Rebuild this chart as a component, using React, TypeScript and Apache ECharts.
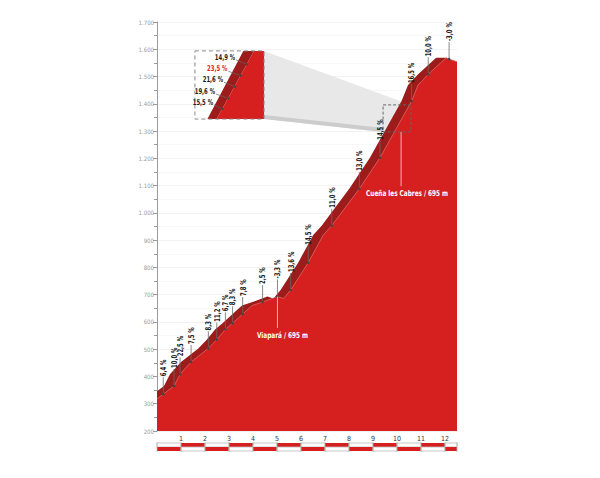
import React, { useEffect, useRef } from 'react';
import * as echarts from 'echarts';

// ---- data ----
const profileKm = [0, 0.26, 0.71, 0.96, 1.42, 2.14, 2.49, 2.85, 3.15, 3.57, 3.96, 4.4, 5.02, 5.27, 5.57, 6.3, 6.93, 7.28, 8.43, 9.29, 10.61, 10.88, 11.3, 12.05, 12.17, 12.5];
const profileElev = [318, 335, 365, 408, 453, 503, 535, 573, 595, 629, 660, 673, 693, 686, 717, 817, 919, 953, 1088, 1202, 1410, 1469, 1508, 1569, 1564, 1554];

const gradeKm = [0.26, 0.71, 0.96, 1.42, 2.14, 2.49, 2.85, 3.15, 3.57, 4.4, 5.02, 5.57, 6.3, 7.28, 8.43, 9.29, 10.61, 11.3, 12.17];
const gradeElev = [335, 365, 408, 453, 503, 535, 573, 595, 629, 673, 693, 717, 817, 953, 1088, 1202, 1410, 1508, 1564];
const gradeLabels = ['6,4 %', '10,0 %', '22,5 %', '7,5 %', '8,3 %', '11,2 %', '6,7 %', '8,3 %', '7,8 %', '2,5 %', '-3,3 %', '13,6 %', '14,5 %', '11,0 %', '13,0 %', '14,5 %', '16,5 %', '10,0 %', '-3,0 %'];

const xTickLabels = [1, 2, 3, 4, 5, 6, 7, 8, 9, 10, 11, 12];
const Y_MIN = 200;
const Y_MAX = 1700;
const Y_STEP = 100;
const X_MAX = 12.5;

const insetGrades = ['14,9 %', '23,5 %', '21,6 %', '19,6 %', '15,5 %'];
const insetHighlight = [false, true, false, false, false];

const passNames = ['Viapará / 695 m', 'Cueña les Cabres / 695 m'];
const passKm = [5.02, 10.17];
const passElev = [693, 1297];

// zoom window (small dashed box) and inset box, in km / m
const zoomBoxKm = [9.42, 10.58];
const zoomBoxElev = [1297, 1396];
const insetBoxKm = [1.58, 4.46];
const insetBoxElev = [1344, 1594];

const FONT = "'Liberation Sans Narrow','DejaVu Sans Condensed','Roboto Condensed',sans-serif";
const NARROW = 0.74;
const RED = '#d61f1f';
const DARK = '#9c1b1b';

export default function App() {
  const ref = useRef<HTMLDivElement>(null);

  useEffect(() => {
    if (!ref.current) return;
    const chart = echarts.init(ref.current, undefined, { renderer: 'svg' });

    const lightData = profileKm.map((k, i) => [k, profileElev[i]]);
    const SHIFT = 0.42;
    const peak = Math.max(...profileElev);
    const peakIdx = profileElev.indexOf(peak);
    const darkData: number[][] = [];
    for (let i = 0; i <= peakIdx; i++) darkData.push([profileKm[i] - SHIFT, profileElev[i]]);
    for (let i = peakIdx; i < profileKm.length; i++) darkData.push([profileKm[i], profileElev[i]]);

    const gradeData = gradeKm.map((k, i) => [k, gradeElev[i]]);
    const scaleData: number[][] = [];
    for (let s = 0; s < X_MAX; s += 1) scaleData.push([s, Math.min(s + 1, X_MAX)]);

    const option: any = {
      animation: false,
      grid: { left: 157, right: 143, top: 22, bottom: 47 },
      xAxis: {
        type: 'value', min: 0, max: X_MAX, interval: 1,
        axisLine: { show: false }, axisTick: { show: false }, splitLine: { show: false },
        axisLabel: {
          color: '#333', fontSize: 7, margin: 4, fontFamily: FONT,
          formatter: (v: number) => (xTickLabels.indexOf(v) >= 0 ? String(v) : ''),
        },
      },
      yAxis: {
        type: 'value', min: Y_MIN, max: Y_MAX, interval: Y_STEP,
        axisLine: { show: true, lineStyle: { color: '#9a9a9a', width: 1 } },
        axisTick: { show: true, length: 4, lineStyle: { color: '#9a9a9a' } },
        minorTick: { show: true, splitNumber: 2, length: 3, lineStyle: { color: '#9a9a9a' } },
        splitLine: { show: true, lineStyle: { color: '#efefef', width: 0.8 } },
        minorSplitLine: { show: true, lineStyle: { color: '#f5f5f5', width: 0.8 } },
        axisLabel: {
          color: '#9a9a9a', fontSize: 6, margin: 3, fontFamily: FONT,
          formatter: (v: number) => (v >= 1000 ? Math.floor(v / 1000) + '.' + String(v % 1000).padStart(3, '0') : String(v)),
        },
      },
      series: [
        {
          type: 'line', data: darkData, symbol: 'none', z: 2,
          lineStyle: { width: 0 }, areaStyle: { color: DARK, opacity: 1 },
        },
        {
          type: 'line', data: lightData, symbol: 'none', z: 3,
          lineStyle: { color: '#e47272', width: 0.7 }, areaStyle: { color: RED, opacity: 1 },
        },
        {
          type: 'custom', data: gradeData, z: 6, clip: false,
          renderItem: (params: any, api: any) => {
            const p = api.coord([api.value(0), api.value(1)]);
            const L = 17;
            return {
              type: 'group',
              children: [
                { type: 'line', shape: { x1: p[0], y1: p[1], x2: p[0], y2: p[1] - L }, style: { stroke: '#6a6a6a', lineWidth: 0.8 } },
                { type: 'circle', shape: { cx: p[0], cy: p[1], r: 1.3 }, style: { fill: '#444' } },
                {
                  type: 'text', x: p[0], y: p[1] - L - 1, rotation: Math.PI / 2, scaleX: NARROW,
                  style: { text: gradeLabels[params.dataIndex], align: 'left', verticalAlign: 'middle', fill: '#1a1a1a', fontSize: 8, fontWeight: 'bold', fontFamily: FONT },
                },
              ],
            };
          },
        },
        {
          type: 'custom', data: scaleData, z: 6, clip: false,
          renderItem: (params: any, api: any) => {
            const p0 = api.coord([api.value(0), Y_MIN]);
            const p1 = api.coord([api.value(1), Y_MIN]);
            const base = p0[1];
            const w = p1[0] - p0[0];
            const topRed = params.dataIndex % 2 === 1;
            const gray = '#b8b8b8';
            const children: any[] = [
              { type: 'rect', shape: { x: p0[0], y: base + 12, width: w, height: 4 }, style: topRed ? { fill: RED } : { fill: '#fff', stroke: gray, lineWidth: 0.8 } },
              { type: 'rect', shape: { x: p0[0], y: base + 16, width: w, height: 4 }, style: !topRed ? { fill: RED } : { fill: '#fff', stroke: gray, lineWidth: 0.8 } },
              { type: 'line', shape: { x1: p0[0], y1: base + 11, x2: p0[0], y2: base + 21 }, style: { stroke: gray, lineWidth: 0.8 } },
            ];
            if (params.dataIndex === scaleData.length - 1) {
              children.push({ type: 'line', shape: { x1: p1[0], y1: base + 11, x2: p1[0], y2: base + 21 }, style: { stroke: gray, lineWidth: 0.8 } });
            }
            return { type: 'group', children };
          },
        },
      ],
    };

    chart.setOption(option);

    const px = (k: number, e: number) => chart.convertToPixel({ gridIndex: 0 }, [k, e]) as number[];
    const ib0 = px(insetBoxKm[0], insetBoxElev[1]);
    const ib1 = px(insetBoxKm[1], insetBoxElev[0]);
    const zb0 = px(zoomBoxKm[0], zoomBoxElev[1]);
    const zb1 = px(zoomBoxKm[1], zoomBoxElev[0]);
    const iw = ib1[0] - ib0[0];
    const ih = ib1[1] - ib0[1];
    const f = (fx: number, fy: number) => [ib0[0] + fx * iw, ib0[1] + fy * ih];

    const dashed = { stroke: '#8a8a8a', lineWidth: 1, lineDash: [4, 3], fill: 'none' };
    const elements: any[] = [
      // magnification cone
      { type: 'polygon', z: 1, shape: { points: [[ib1[0], ib0[1]], [zb1[0], zb0[1]], [zb1[0], zb1[1]], [zb0[0], zb1[1]], [ib1[0], ib1[1]]] }, style: { fill: '#e8e8e8' } },
      { type: 'polygon', z: 1, shape: { points: [[ib1[0], ib1[1] - 4], [zb0[0], zb1[1] - 4], [zb0[0], zb1[1]], [ib1[0], ib1[1]]] }, style: { fill: '#cccccc' } },
      // inset
      { type: 'polygon', z: 10, shape: { points: [f(0.181, 1), f(0.7, 0), f(0.855, 0), f(0.314, 1)] }, style: { fill: DARK } },
      { type: 'polygon', z: 10, shape: { points: [f(0.314, 1), f(0.855, 0), f(1, 0), f(1, 1)] }, style: { fill: RED } },
      { type: 'rect', z: 11, shape: { x: ib0[0], y: ib0[1], width: iw, height: ih }, style: dashed },
      { type: 'rect', z: 11, shape: { x: zb0[0], y: zb0[1], width: zb1[0] - zb0[0], height: zb1[1] - zb0[1] }, style: { ...dashed, stroke: '#666', lineDash: [3, 2] } },
    ];
    const insetDots = [[0.749, 0.196], [0.662, 0.363], [0.58, 0.525], [0.483, 0.696], [0.396, 0.853]];
    const insetText = [[0.58, 0.088], [0.468, 0.254], [0.406, 0.416], [0.29, 0.588], [0.261, 0.746]];
    insetGrades.forEach((g, i) => {
      const d = f(insetDots[i][0], insetDots[i][1]);
      const t = f(insetText[i][0], insetText[i][1]);
      elements.push({ type: 'line', z: 12, shape: { x1: t[0] + 1, y1: t[1] + 3, x2: d[0], y2: d[1] }, style: { stroke: '#666', lineWidth: 0.7 } });
      elements.push({ type: 'circle', z: 12, shape: { cx: d[0], cy: d[1], r: 1.2 }, style: { fill: '#444' } });
      elements.push({
        type: 'text', z: 12, x: t[0], y: t[1], scaleX: NARROW,
        style: { text: g, align: 'right', verticalAlign: 'middle', fill: insetHighlight[i] ? '#e32020' : '#1a1a1a', fontSize: 8, fontWeight: 'bold', fontFamily: FONT },
      });
    });
    // pass annotations
    const passLineEnd = [578, 1098];
    const passTextKm = [5.23, 10.42];
    const passTextElev = [552, 1073];
    passNames.forEach((n, i) => {
      const a = px(passKm[i], passElev[i]);
      const b = px(passKm[i], passLineEnd[i]);
      const t = px(passTextKm[i], passTextElev[i]);
      elements.push({ type: 'line', z: 12, shape: { x1: a[0], y1: a[1], x2: b[0], y2: b[1] }, style: { stroke: 'rgba(255,235,235,0.9)', lineWidth: 0.8 } });
      elements.push({
        type: 'text', z: 12, x: t[0], y: t[1], scaleX: 0.8,
        style: { text: n, align: 'center', verticalAlign: 'middle', fill: '#ffffff', fontSize: 8, fontWeight: 'bold', fontFamily: FONT },
      });
    });

    chart.setOption({ graphic: { elements } });

    return () => chart.dispose();
  }, []);

  return <div ref={ref} style={{ position: 'absolute', left: 0, top: 0, width: 600, height: 478 }} />;
}
